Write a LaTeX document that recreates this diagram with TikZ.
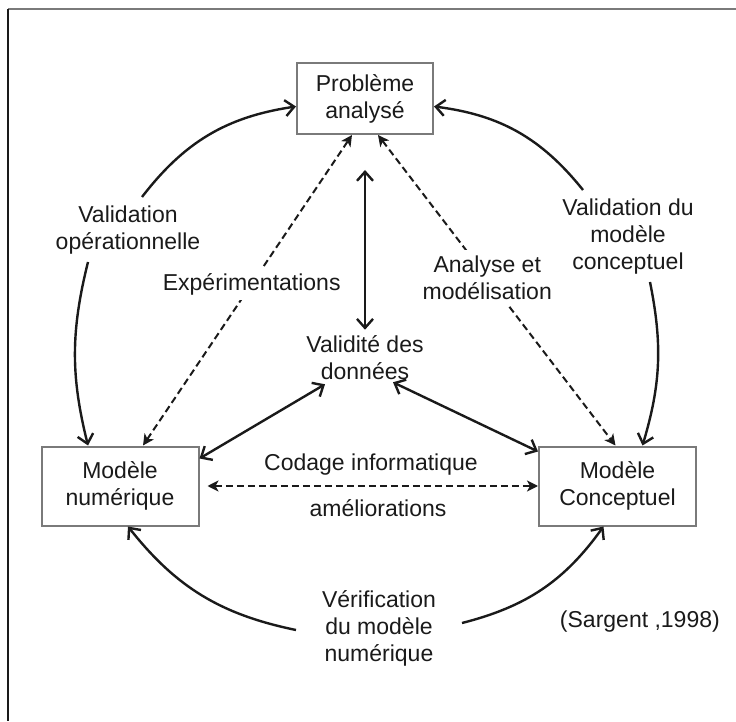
\documentclass[tikz,border=0pt]{standalone}
\usepackage{fontspec}
\setmainfont{Liberation Sans}
\usetikzlibrary{arrows.meta,positioning}
\definecolor{ink}{HTML}{1a1a1a}
\definecolor{boxgray}{HTML}{7a7a7a}

\begin{document}
\begin{tikzpicture}[x=1pt,y=1pt,
    every node/.style={font=\fontsize{23}{27}\selectfont, text=ink},
    box/.style={draw=boxgray, line width=2pt, fill=white, align=center,
      minimum width=157pt, minimum height=79pt, inner sep=0pt},
    lbl/.style={align=center, inner sep=2pt},
    solidlink/.style={draw=ink, line width=2.4pt},
    dashlink/.style={draw=ink, line width=2pt, dash pattern=on 7pt off 4pt,
      {Stealth[length=11pt,width=11pt,inset=3pt]}-{Stealth[length=11pt,width=11pt,inset=3pt]}},
    tip/.style={-{Straight Barb[length=9pt,width=16pt]}},
    tips/.style={{Straight Barb[length=9pt,width=16pt]}-{Straight Barb[length=9pt,width=16pt]}}]
  \useasboundingbox (0,0) rectangle (736,721);
  % frame
  \draw[boxgray, line width=2pt] (8,712) -- (736,712);
  \draw[ink, line width=2pt] (8,712) -- (8,0);

  % Define nodes
  \node[box, minimum width=136pt, minimum height=71pt] (P) at (365,622.5) {Problème\\analysé};
  \node[box] (N) at (120,235) {Modèle\\numérique};
  \node[box] (C) at (617.5,235) {Modèle\\Conceptuel};
  \node[lbl] (valop) at (128,491) {Validation\\opérationnelle};
  \node[lbl] (valmc) at (628,484) {Validation du\\modèle\\conceptuel};
  \node[lbl] (valid) at (365,363) {Validité des\\données};
  \node[lbl] (codage) at (371,256) {Codage informatique};
  \node[lbl] (amelio) at (378,213) {améliorations};
  \node[lbl] (verif) at (379,93) {Vérification\\du modèle\\numérique};
  \node[lbl, anchor=east] (src) at (722,99) {(Sargent ,1998)};

  % free ends
  \coordinate (opA) at (142,524);
  \coordinate (opB) at (88,459);
  \coordinate (mcA) at (583,531);
  \coordinate (mcB) at (650,439);
  \coordinate (vtop) at (365,551);
  \coordinate (vfL) at (296,91);
  \coordinate (vfR) at (462,98);

  % Connect the nodes
  \draw[solidlink, tip] (opA) to[bend left=22] ([yshift=-8pt]P.west);
  \draw[solidlink, tip] (mcA) to[bend right=22] ([yshift=-8pt]P.east);
  \draw[solidlink, tip] (opB) to[bend right=14] ([xshift=-32pt]N.north);
  \draw[solidlink, tip] (mcB) to[bend left=14] ([xshift=25pt]C.north);
  \draw[solidlink, tips] ([yshift=4pt]valid.north) -- (vtop);
  \draw[solidlink, tips] ([yshift=-13pt]N.north east) -- ([xshift=-40pt,yshift=-2pt]valid.south);
  \draw[solidlink, tips] ([xshift=28pt]valid.south) -- ([yshift=-6pt]C.north west);
  \draw[solidlink, tip] (vfL) to[bend left=20] ([xshift=8pt]N.south);
  \draw[solidlink, tip] (vfR) to[bend right=20] ([xshift=-14pt]C.south);
  \draw[dashlink] ([xshift=23pt]N.north) -- node[pos=0.52, lbl, fill=white, inner sep=5pt] {Expérimentations} ([xshift=-13pt]P.south);
  \draw[dashlink] ([xshift=13pt]P.south) -- node[pos=0.46, lbl, fill=white, inner sep=6pt] {Analyse et\\modélisation} ([xshift=-2pt]C.north);
  \draw[dashlink] ([xshift=8pt]N.east) -- (C.west);
\end{tikzpicture}
\end{document}
